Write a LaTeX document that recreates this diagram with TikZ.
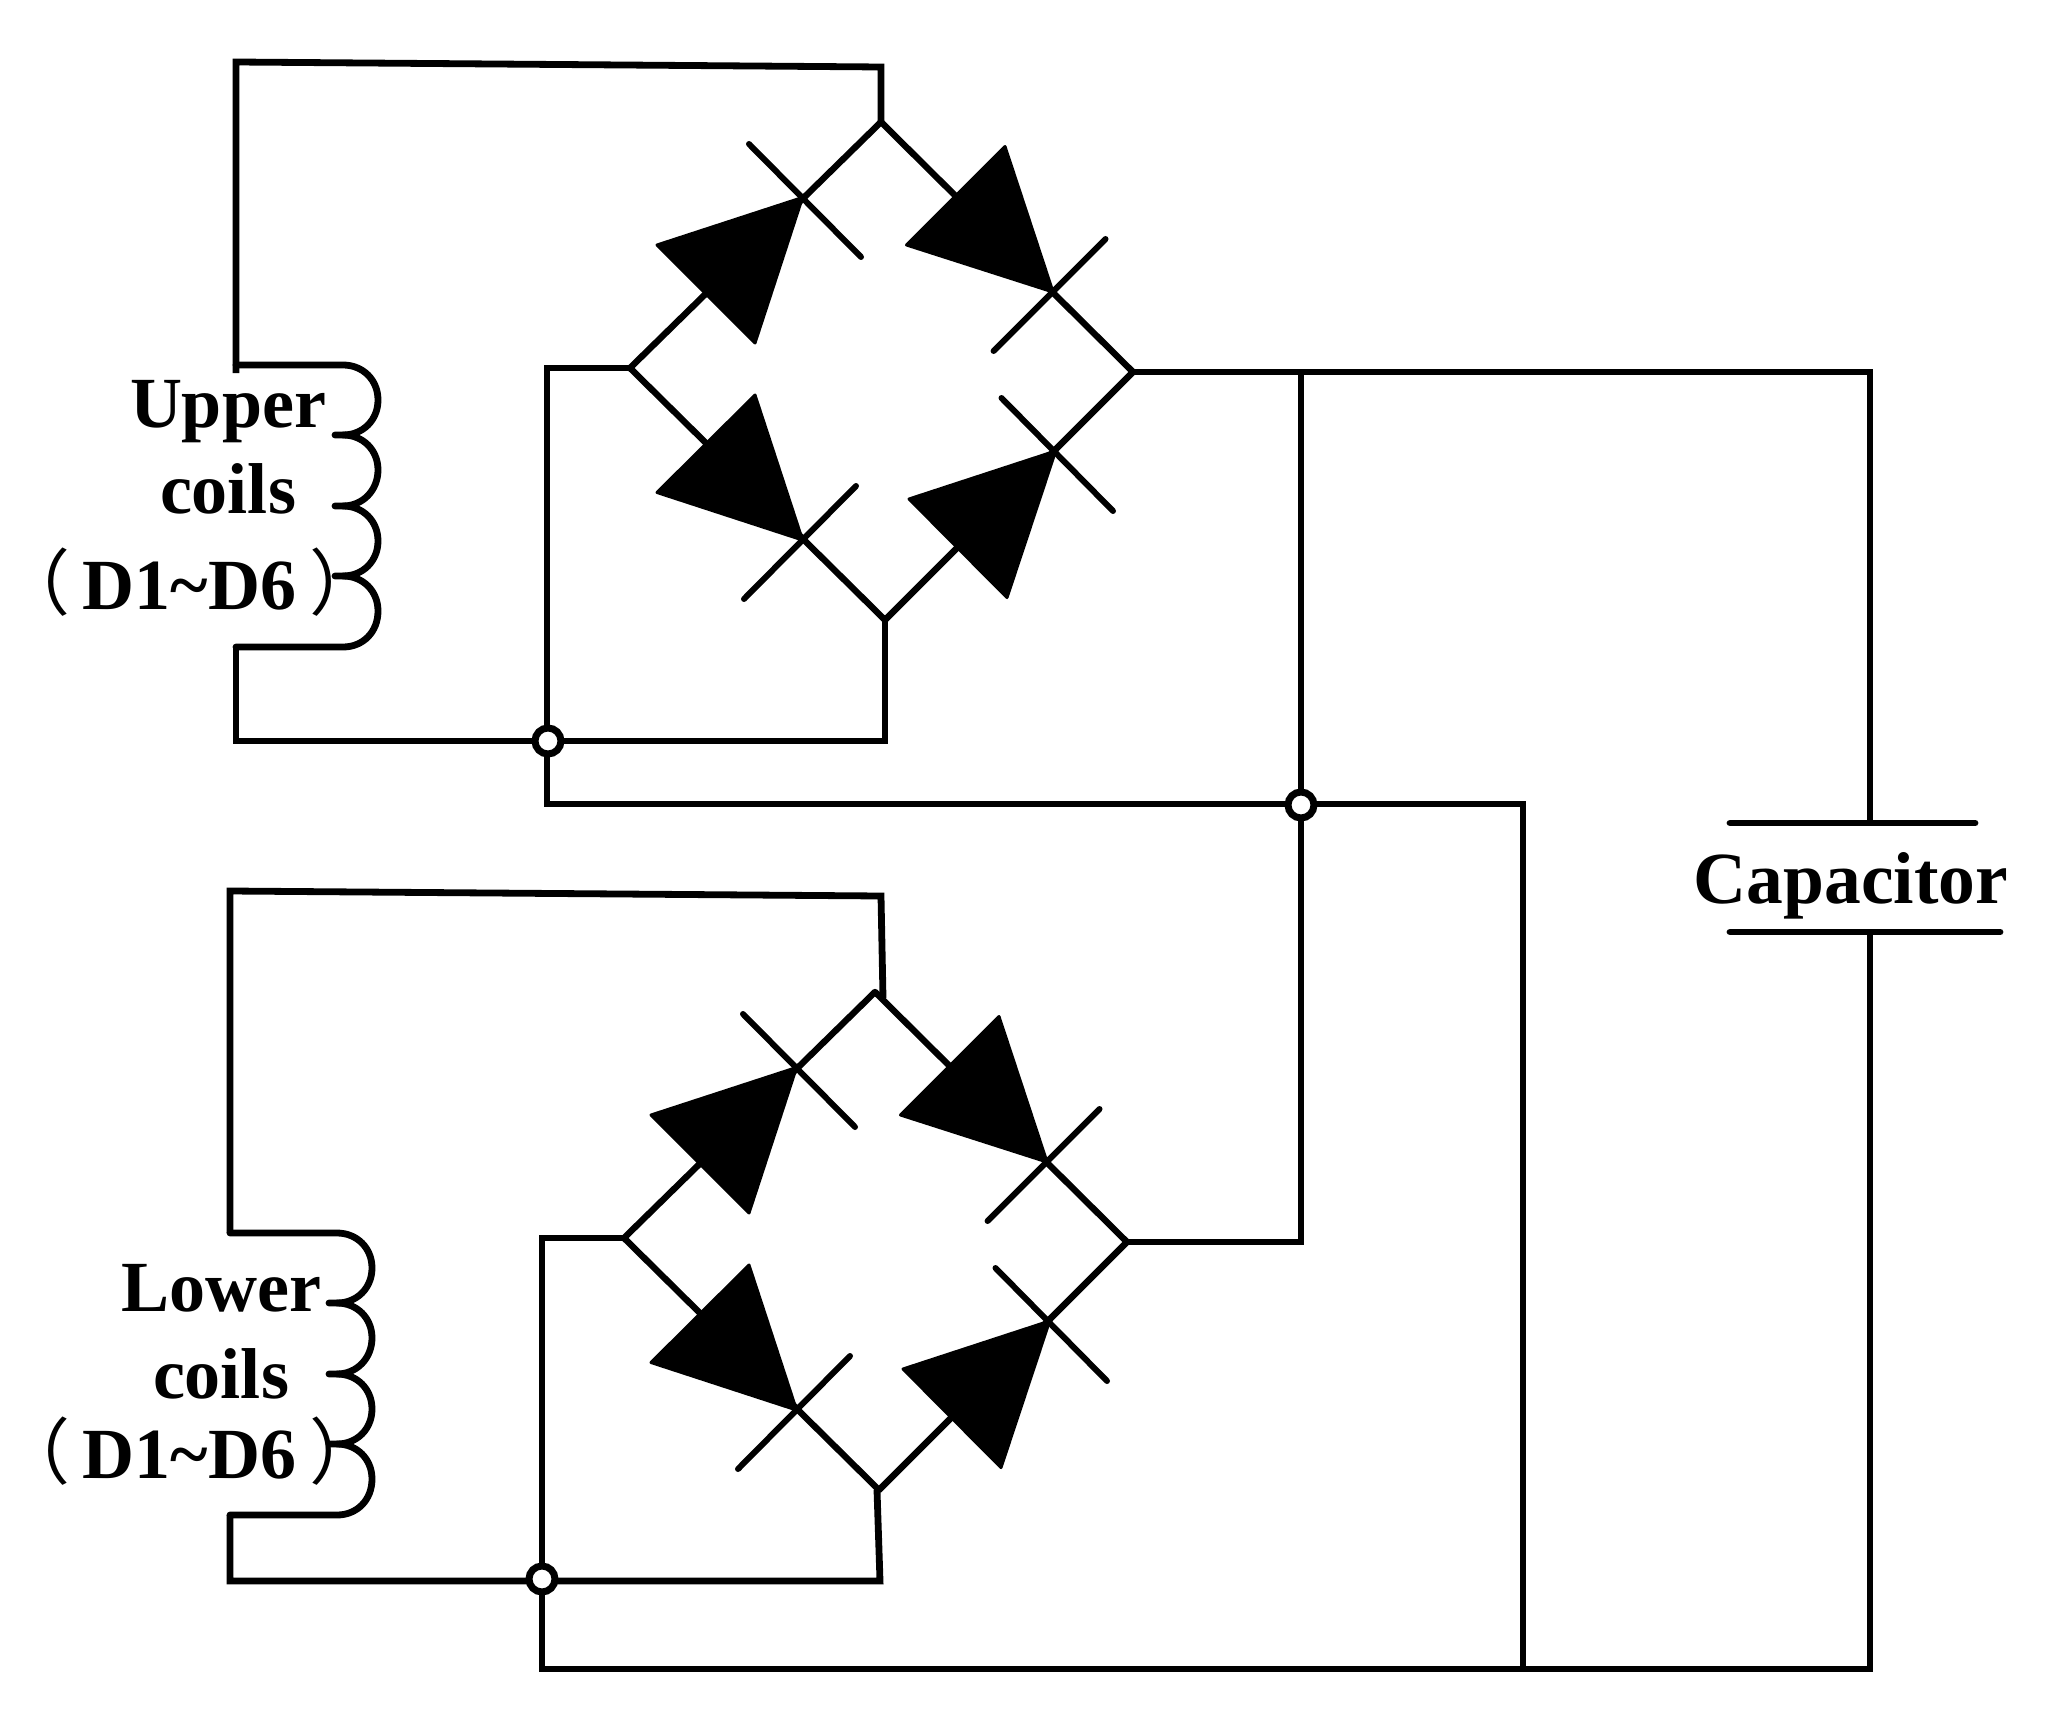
\documentclass[tikz,border=0pt]{standalone}
\usepackage{fontspec}
\setmainfont{Liberation Serif}
\newfontfamily\cjkparen{Noto Sans CJK SC}
\newcommand{\fullparenL}{{\mdseries\cjkparen\symbol{"FF08}}\kern12pt}
\newcommand{\fullparenR}{{\mdseries\cjkparen\kern13pt\symbol{"FF09}}}
\tikzset{
  wire/.style={line width=6.8pt,line join=miter,line cap=butt,black},
  thinwire/.style={line width=6.4pt,line join=round,black},
  bar/.style={line width=6pt,line cap=round,black},
  plate/.style={line width=6.8pt,line cap=round,black},
  diodehead/.style={fill=black,draw=black,line width=3pt,line join=round},
  junc/.style={circle,draw=black,fill=white,line width=7pt,minimum size=26pt,inner sep=0pt},
  lab/.style={font=\fontsize{72}{80}\selectfont\bfseries,anchor=base,inner sep=0pt,text=black}
}
\newcommand{\bridgebody}{%
  \coordinate (T) at (881,122);
  \coordinate (L) at (630,368);
  \coordinate (R) at (1133,372);
  \coordinate (B) at (885,620);
  \draw[thinwire] (T) -- (L) -- (B) -- (R) -- cycle;
  \fill[diodehead] (802.5,197.5) -- (657,245) -- (755,343) -- cycle;
  \fill[diodehead] (1053,292) -- (1005,146.5) -- (906.5,245) -- cycle;
  \fill[diodehead] (802.5,540) -- (755,395) -- (657,492.5) -- cycle;
  \fill[diodehead] (1055.6,451) -- (909,499) -- (1007,597.6) -- cycle;
  \draw[bar] (749,144) -- (861,257);
  \draw[bar] (1105.5,239) -- (993.6,351);
  \draw[bar] (1001.5,398) -- (1113,511);
  \draw[bar] (856,486) -- (744,599);
}
\newcommand{\coilbody}{%
  \coordinate (cT) at (236,365);
  \coordinate (cB) at (236,647);
  \draw[wire,line cap=round] (cT) -- (343,365)
    .. controls (363,365) and (378,380) .. (378,400)
    .. controls (378,420) and (363,435) .. (343,435) -- (335,435);
  \draw[wire,line cap=round] (343,435)
    .. controls (363,435) and (378,450) .. (378,470)
    .. controls (378,490) and (363,506) .. (343,506) -- (335,506);
  \draw[wire,line cap=round] (343,506)
    .. controls (363,506) and (378,521) .. (378,541)
    .. controls (378,561) and (363,576) .. (343,576) -- (335,576);
  \draw[wire,line cap=round] (343,576)
    .. controls (363,576) and (378,591) .. (378,611)
    .. controls (378,632) and (363,647) .. (343,647) -- (cB);
}
\begin{document}
\begin{tikzpicture}[x=1pt,y=-1pt]
\useasboundingbox[fill=white] (0,0) rectangle (2056,1736);
% bridges and coils
\begin{scope}[name prefix=u]
  \bridgebody
  \coilbody
\end{scope}
\begin{scope}[shift={(-6,870)},name prefix=l]
  \bridgebody
\end{scope}
\begin{scope}[shift={(-6,868)},name prefix=l]
  \coilbody
\end{scope}
% routing points
\coordinate (uTL) at (236,62);
\coordinate (uTR) at (881,67);
\coordinate (uBL) at (236,741);
\coordinate (uBR) at (885,741);
\coordinate (uJ) at (548,741);
\coordinate (uLt) at (547,368);
\coordinate (uLb) at (547,804);
\coordinate (mid) at (1301,805);
\coordinate (midT) at (1301,372);
\coordinate (midB) at (1301,1242);
\coordinate (busR) at (1523,804);
\coordinate (busB) at (1523,1669);
\coordinate (capT) at (1870,372);
\coordinate (capP) at (1870,823);
\coordinate (capQ) at (1870,932);
\coordinate (capB) at (1870,1669);
\coordinate (lTL) at (230,891);
\coordinate (lTR) at (881,896);
\coordinate (lTE) at (883,998);
\coordinate (lBL) at (230,1581);
\coordinate (lBR) at (880,1581);
\coordinate (lBE) at (877,1490);
\coordinate (lJ) at (542,1579);
\coordinate (lLt) at (542,1238);
\coordinate (lLb) at (542,1669);
% wires
\draw[wire] (uT) -- (uTR) -- (uTL) -- (236,373);
\draw[wire] (ucB) -- (uBL) -- (uBR) -- (uB);
\draw[wire] (uL) -- (uLt) -- (uLb) -- (busR) -- (busB);
\draw[wire] (uR) -- (capT) -- (capP);
\draw[wire] (midT) -- (midB) -- (lR);
\draw[wire] (lTE) -- (lTR) -- (lTL) -- (lcT);
\draw[wire] (lcB) -- (lBL) -- (lBR) -- (lBE);
\draw[wire] (lL) -- (lLt) -- (lLb) -- (capB) -- (capQ);
% capacitor
\coordinate (p1a) at (1730,823);
\coordinate (p1b) at (1975,823);
\coordinate (p2a) at (1730,932);
\coordinate (p2b) at (2000,932);
\draw[plate] (p1a) -- (p1b);
\draw[plate] (p2a) -- (p2b);
% junctions
\node[junc] (j1) at (uJ) {};
\node[junc] (j2) at (mid) {};
\node[junc] (j3) at (lJ) {};
% labels
\node[lab] (t1) at (228,427) {Upper};
\node[lab] (t2) at (228,513) {coils};
\node[lab] (t3) at (190,609) {\fullparenL D1\char`\~D6\fullparenR};
\node[lab] (t4) at (221,1311) {Lower};
\node[lab] (t5) at (221,1398) {coils};
\node[lab] (t6) at (190,1478) {\fullparenL D1\char`\~D6\fullparenR};
\node[lab,font=\fontsize{73.5}{80}\selectfont\bfseries] (t7) at (1851,903) {Capacitor};
\end{tikzpicture}
\end{document}
